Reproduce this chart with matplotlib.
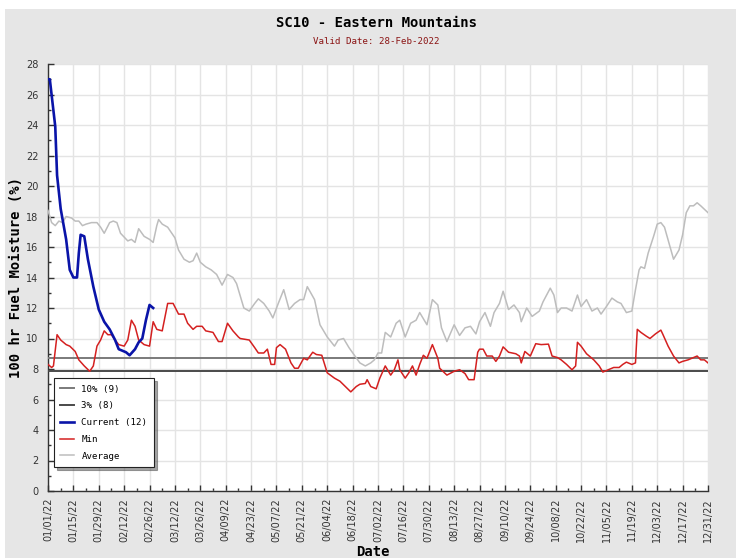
"""SC10 Eastern Mountains - 100 hr fuel moisture, 2022 current vs climatology."""

import matplotlib

matplotlib.use("Agg")

import matplotlib.dates as mdates
import matplotlib.pyplot as plt
import numpy as np
from matplotlib.patches import Rectangle

# day-of-year offsets from 2022-01-01, values in %
avg_day = [0, 2, 4, 6, 8, 10, 13, 15, 17, 19, 21, 24, 27, 29, 31, 34, 36, 38, 40, 44,
           46, 48, 50, 53, 56, 58, 60, 61, 63, 66, 70, 72, 75, 78, 80, 82, 84, 87, 90, 93,
           96, 99, 102, 104, 106, 108, 111, 114, 116, 119, 122, 124, 127, 130, 133, 136,
           139, 141, 143, 147, 150, 154, 158, 160, 163, 166, 169, 172, 175, 178, 180, 182,
           184, 186, 189, 192, 194, 197, 200, 203, 205, 209, 212, 215, 217, 220, 224, 227,
           230, 233, 236, 238, 241, 244, 246, 249, 251, 254, 257, 260, 261, 264, 267, 271,
           273, 277, 279, 281, 283, 286, 289, 292, 294, 297, 300, 303, 305, 308, 311, 314,
           316, 319, 322, 324, 326, 327, 329, 331, 334, 336, 338, 340, 343, 345, 348, 350,
           352, 354, 356, 358, 360, 364]
avg_val = [18.4, 17.6, 17.4, 17.7, 17.6, 18.0, 17.9, 17.7, 17.7, 17.4, 17.5, 17.6, 17.6,
           17.3, 16.9, 17.6, 17.7, 17.6, 16.9, 16.4, 16.5, 16.3, 17.2, 16.7, 16.5, 16.3,
           17.4, 17.8, 17.5, 17.3, 16.6, 15.8, 15.2, 15.0, 15.1, 15.6, 15.0, 14.7, 14.5,
           14.2, 13.5, 14.2, 14.0, 13.6, 12.8, 12.0, 11.8, 12.3, 12.6, 12.3, 11.8, 11.35,
           12.3, 13.2, 11.9, 12.3, 12.55, 12.55, 13.4, 12.55, 10.9, 10.1, 9.5, 9.9, 10.0,
           9.4, 8.9, 8.4, 8.2, 8.4, 8.6, 9.05, 9.05, 10.4, 10.1, 11.0, 11.2, 10.1, 11.0,
           11.2, 11.7, 10.9, 12.55, 12.2, 10.7, 9.8, 10.9, 10.2, 10.7, 10.8, 10.3, 11.1,
           11.7, 10.8, 11.7, 12.3, 13.1, 11.9, 12.2, 11.7, 11.1, 12.0, 11.45, 11.8, 12.4,
           13.3, 12.85, 11.7, 12.0, 12.0, 11.8, 12.85, 12.1, 12.55, 11.8, 12.0, 11.6, 12.1,
           12.65, 12.4, 12.3, 11.7, 11.8, 13.2, 14.5, 14.7, 14.6, 15.6, 16.7, 17.5, 17.6,
           17.3, 16.05, 15.2, 15.8, 16.8, 18.25, 18.7, 18.7, 18.9, 18.7, 18.25]

min_day = [0, 2, 3, 5, 7, 10, 12, 15, 17, 20, 23, 25, 27, 29, 31, 33, 35, 37, 39, 42, 44,
           46, 48, 50, 53, 56, 58, 60, 63, 66, 69, 72, 75, 77, 80, 82, 85, 87, 91, 94, 96,
           99, 102, 105, 106, 111, 114, 116, 119, 121, 123, 125, 126, 128, 131, 134, 136,
           138, 141, 143, 146, 148, 151, 154, 158, 161, 164, 167, 170, 172, 175, 176, 178,
           181, 183, 186, 189, 191, 193, 194, 197, 199, 201, 203, 205, 207, 209, 212, 215,
           216, 220, 224, 227, 230, 232, 235, 237, 238, 240, 242, 245, 247, 249, 251, 254,
           258, 260, 261, 263, 266, 269, 272, 276, 278, 281, 283, 286, 289, 291, 292, 294,
           297, 301, 304, 306, 309, 312, 315, 317, 319, 322, 324, 325, 327, 330, 332, 335,
           338, 339, 342, 345, 348, 350, 353, 356, 358, 360, 362, 364]
min_val = [8.3, 8.1, 8.2, 10.25, 9.9, 9.6, 9.5, 9.15, 8.6, 8.2, 7.85, 8.2, 9.5, 9.9, 10.5,
           10.25, 10.25, 9.9, 9.6, 9.5, 9.9, 11.2, 10.8, 9.9, 9.6, 9.5, 11.1, 10.6, 10.5,
           12.3, 12.3, 11.6, 11.6, 11.0, 10.6, 10.8, 10.8, 10.5, 10.4, 9.8, 9.8, 11.0, 10.5,
           10.1, 10.0, 9.9, 9.4, 9.05, 9.05, 9.3, 8.3, 8.3, 9.4, 9.6, 9.3, 8.4, 8.05, 8.05,
           8.7, 8.6, 9.1, 8.95, 8.9, 7.75, 7.4, 7.2, 6.85, 6.5, 6.85, 7.0, 7.05, 7.3, 6.85,
           6.7, 7.4, 8.2, 7.6, 7.95, 8.6, 7.95, 7.4, 7.75, 8.2, 7.6, 8.3, 8.9, 8.7, 9.6, 8.7,
           8.05, 7.6, 7.85, 7.95, 7.7, 7.3, 7.3, 9.1, 9.3, 9.3, 8.85, 8.85, 8.5, 8.85, 9.45,
           9.1, 9.0, 8.85, 8.4, 9.15, 8.85, 9.66, 9.6, 9.63, 8.85, 8.75, 8.6, 8.3, 7.95, 8.2,
           9.75, 9.5, 9.0, 8.6, 8.2, 7.8, 7.95, 8.1, 8.1, 8.3, 8.45, 8.3, 8.4, 10.6, 10.4,
           10.15, 10.0, 10.3, 10.55, 10.3, 9.5, 8.85, 8.4, 8.5, 8.6, 8.75, 8.85, 8.6, 8.6, 8.4]

cur_day = [0, 1, 4, 5, 7, 10, 12, 14, 16, 17, 18, 20, 22, 25, 28, 31, 34, 37, 39, 43, 45,
           48, 50, 52, 54, 56, 58]
cur_val = [27.0, 27.0, 23.9, 20.7, 18.5, 16.5, 14.5, 14.0, 14.0, 15.6, 16.8, 16.7, 15.2,
           13.4, 11.9, 11.1, 10.6, 9.9, 9.3, 9.1, 8.9, 9.3, 9.75, 10.0, 11.2, 12.2, 12.0]

pct10, pct3 = 8.75, 7.85

START = np.datetime64("2022-01-01")


def to_dates(days):
    return START + np.array(days).astype("timedelta64[D]")


mono = "DejaVu Sans Mono"
fig = plt.figure(figsize=(7.36, 5.58), dpi=100, facecolor="white")
fig.patches.append(Rectangle((5 / 736, 0), 1, 1 - 9 / 558, transform=fig.transFigure,
                             facecolor="#e6e6e6", edgecolor="none", zorder=-10))
ax = fig.add_axes([48 / 736, 67 / 558, 660 / 736, 427 / 558])
ax.set_facecolor("white")

ax.axhline(pct10, color="#7a7a7a", lw=1.4, label="10% (9)", zorder=3)
ax.axhline(pct3, color="#4a4a4a", lw=1.4, label="3% (8)", zorder=3)
ax.plot(to_dates(cur_day), cur_val, color="#0a14a8", lw=1.9, label="Current (12)", zorder=5)
ax.plot(to_dates(min_day), min_val, color="#d42020", lw=1.1, label="Min", zorder=4)
ax.plot(to_dates(avg_day), avg_val, color="#bdbdbd", lw=1.1, label="Average", zorder=4)

ax.set_xlim(START, START + np.timedelta64(364, "D"))
ax.set_ylim(0, 28)
ax.set_xticks(to_dates(range(0, 365, 14)))
ax.set_xticks(to_dates(range(7, 365, 14)), minor=True)
ax.xaxis.set_major_formatter(mdates.DateFormatter("%m/%d/%y"))
ax.set_yticks(range(0, 29, 2))
ax.set_yticks(range(1, 28, 2), minor=True)

ax.grid(True, which="major", color="#e4e4e4", lw=1.0, zorder=0)
ax.set_axisbelow(True)
for s in ("top", "right"):
    ax.spines[s].set_visible(False)
for s in ("left", "bottom"):
    ax.spines[s].set_color("#333333")
    ax.spines[s].set_linewidth(1.0)

ax.tick_params(axis="both", which="major", direction="in", length=4, width=1,
               color="#333333", labelsize=7, labelcolor="#333333")
ax.tick_params(axis="both", which="minor", direction="in", length=2, width=1, color="#333333")
ax.tick_params(axis="x", which="major", pad=5, labelrotation=90)
ax.tick_params(axis="y", which="major", pad=7)

ax.set_ylabel("100 hr Fuel Moisture (%)", fontfamily=mono, fontweight="bold",
              fontsize=10, labelpad=2)
fig.text(0.507, 1 - 545 / 558, "Date", fontfamily=mono, fontweight="bold",
         fontsize=10, ha="center", va="top")

fig.text(0.511, 1 - 23 / 558, "SC10 - Eastern Mountains", fontfamily=mono,
         fontweight="bold", fontsize=10, ha="center", va="center")
fig.text(0.511, 1 - 42 / 558, "Valid Date: 28-Feb-2022", fontfamily=mono,
         fontsize=6.6, color="#8b1414", ha="center", va="center")

leg = ax.legend(loc="lower left", bbox_to_anchor=(0.009, 0.056), borderaxespad=0,
                prop={"family": mono, "size": 6.6}, fancybox=False, shadow=True,
                handlelength=1.5, labelspacing=0.85, borderpad=0.7, framealpha=1)
leg.get_frame().set_edgecolor("#222222")
leg.get_frame().set_linewidth(0.8)

fig.savefig("out.png", dpi=100, facecolor=fig.get_facecolor())
